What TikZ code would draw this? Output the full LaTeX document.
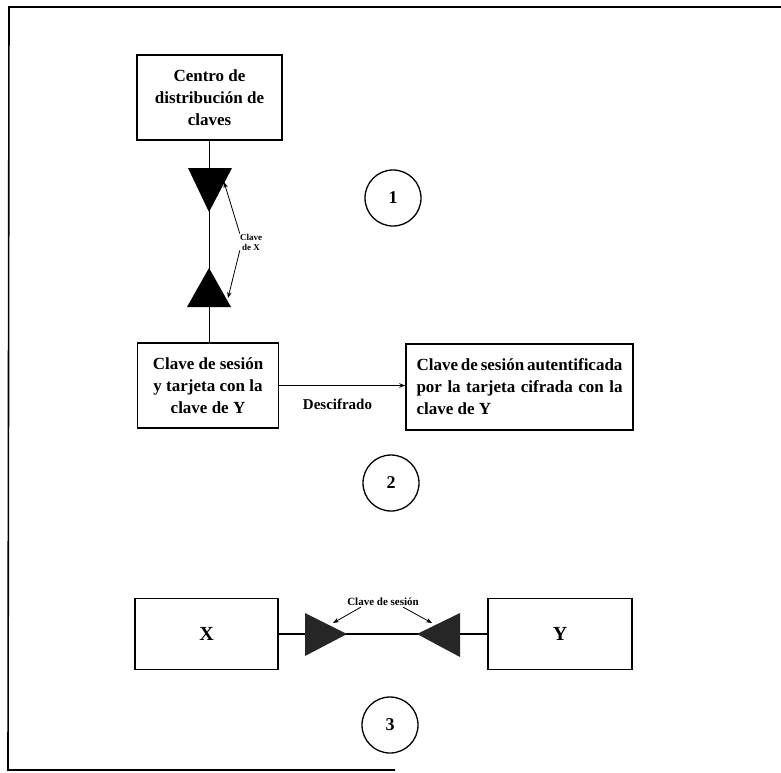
\documentclass[tikz,border=0pt]{standalone}
\usepackage{fontspec}
\setmainfont{Liberation Serif}
\usetikzlibrary{arrows.meta}
\begin{document}
\begin{tikzpicture}[x=1pt,y=-1pt,
    caja/.style={draw,line width=1.5pt,inner sep=0pt,font=\fontsize{17}{22}\selectfont\bfseries},
    ronda/.style={draw,circle,line width=1.3pt,minimum size=56pt,inner sep=0pt,font=\fontsize{18}{20}\selectfont\bfseries},
    flecha/.style={line width=0.8pt,-{Stealth[length=6pt,width=4.5pt]}},
    linea/.style={line width=1.5pt}]
    \useasboundingbox (0,0) rectangle (781,772);
    % \clip (0,0) rectangle (781,772);

    % Drawing frame
    \draw [line width=1.6pt] (781,7) -- (9,7) -- (8,770) -- (395,770);%

    % Part 1: key distribution centre
    \node [caja,minimum width=145pt,minimum height=85pt,align=center] (cdc) at (209.5,97.5) {Centro de\\distribución de\\claves};%
    \node [caja,minimum width=141pt,minimum height=85pt,align=center] (sk) at (208,385.5) {Clave de sesión\\y tarjeta con la\\clave de Y};%
    \draw [linea] (cdc.south) -- (cdc.south |- sk.north);%

    % Drawing key triangles of X
    \fill (188,168) -- (232,168) -- (209,212) -- cycle;%
    \fill (187,307) -- (231,307) -- (209,268) -- cycle;%
    \coordinate (kx1) at (224,182);%
    \coordinate (kx2) at (228,298);%
    \node [align=center,inner sep=0pt,font=\fontsize{9}{10}\selectfont\bfseries] (lblx) at (251,242) {Clave\\de X};%
    \draw [flecha] (lblx.north west) -- (kx1);%
    \draw [flecha] (lblx.south west) -- (kx2);%

    \node [ronda] (n1) at (393,198) {1};%

    % Part 2: deciphering
    \node [caja,minimum width=227pt,minimum height=86pt,text width=206pt,align=justify] (ska) at (519.5,387) {Clave de sesión autentificada por la tarjeta cifrada con la clave de Y};%
    \draw [flecha,line width=1.5pt] (sk.east) -- (sk.east -| ska.west);%
    \node [font=\fontsize{15}{17}\selectfont\bfseries] (desc) at (337.5,404) {Descifrado};%

    \node [ronda] (n2) at (391,483) {2};%

    % Part 3: session between X and Y
    \node [caja,minimum width=143pt,minimum height=71pt,font=\fontsize{20}{22}\selectfont\bfseries] (x) at (206.5,634) {X};%
    \node [caja,minimum width=144pt,minimum height=71pt,font=\fontsize{20}{22}\selectfont\bfseries] (y) at (560,634) {Y};%
    \draw [linea] (x.east) -- (y.west);%

    % Drawing session key triangles
    \fill [black!85] (305,613) -- (305,656) -- (347,634) -- cycle;%
    \fill [black!85] (460,613) -- (460,657) -- (417,634) -- cycle;%
    \coordinate (ks1) at (333,623);%
    \coordinate (ks2) at (432,623);%
    \node [inner sep=1pt,font=\fontsize{11}{12}\selectfont\bfseries] (lbls) at (383,602) {Clave de sesión};%
    \draw [flecha] ([xshift=-22pt]lbls.south) -- (ks1);%
    \draw [flecha] ([xshift=20pt]lbls.south) -- (ks2);%

    \node [ronda] (n3) at (390,725) {3};%
\end{tikzpicture}
\end{document}
